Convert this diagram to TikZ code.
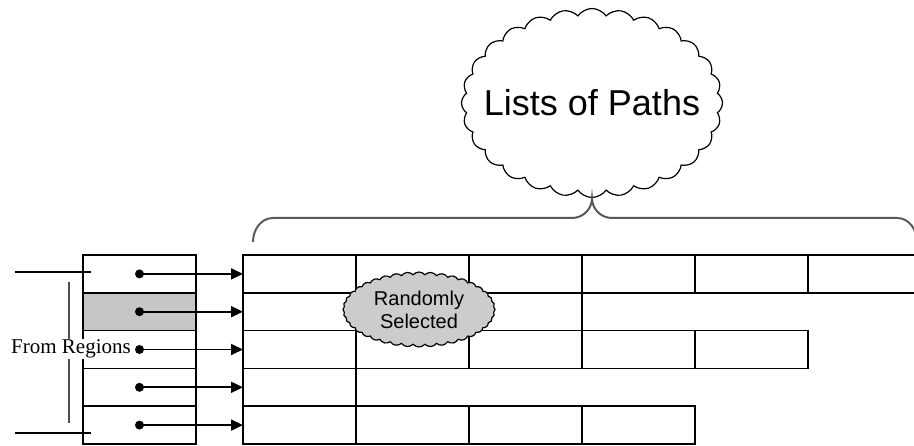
\documentclass[tikz,border=0pt]{standalone}
\usepackage{fontspec}
\setmainfont{Liberation Serif}
\setsansfont{Liberation Sans}
\usetikzlibrary{arrows.meta,shapes.symbols}
\tikzset{
	cell/.style={draw, line width=1.5pt, minimum width=113pt, minimum height=37.8pt, inner sep=0pt, outer sep=0pt},
	dot/.style={circle, fill, inner sep=0pt, minimum size=9pt},
	brace/.style={line width=2pt, gray!70!black},
	puff/.style={cloud, draw, line width=1.2pt, cloud ignores aspect, inner sep=0pt},
}
\begin{document}
\begin{tikzpicture}[x=1pt, y=-1pt, >={Triangle[length=12pt,width=11pt]}]
		\clip (0,0) rectangle (914,446);
		% regions and lists
		\foreach \r/\f in {1/white,2/gray!45,3/white,4/white,5/white}{
			\node[cell, fill=\f] (reg\r) at (139.5,{255+37.8*(\r-0.5)}) {};
		}
		\foreach \r/\n in {1/6,2/3,3/5,4/1,5/4}{
			\foreach \c in {1,...,\n}{
				\node[cell] (c\r-\c) at ({243+113*(\c-0.5)},{255+37.8*(\r-0.5)}) {};
			}
		}
		\foreach \r in {1,...,5}{
			\node[dot] (d\r) at (reg\r) {};
			\draw[->, line width=1.8pt] (d\r.center) -- (c\r-1.west);
		}
		% bracket on the left
		\coordinate (lt) at (15,272);
		\coordinate (lb) at (15,433);
		\draw[line width=1.5pt] (lt) -- ++(76,0);
		\draw[line width=1.5pt] (lb) -- ++(76,0);
		\draw[line width=2pt, gray!60!black] (69,282) -- (69,423);
		\node[fill=white, inner sep=1pt, font=\fontsize{21}{24}\selectfont] (from) at (71,349) {From Regions};
		% clouds
		\node[puff, fill=gray!40, cloud puffs=40, cloud puff arc=100,
			minimum width=152pt, minimum height=75pt] (rand) at (419,309.5) {};
		\node[align=center, font=\sffamily\fontsize{20}{23}\selectfont] (randtxt) at (rand.center) {Randomly\\Selected};
		\node[puff, cloud puffs=28, cloud puff arc=110,
			minimum width=261pt, minimum height=189pt] (lists) at (592,103) {};
		\node[font=\sffamily\fontsize{36}{40}\selectfont] (liststxt) at (lists.center) {Lists of Paths};
		\coordinate (bl) at (253,242);
		\coordinate (br) at (917,242);
		\draw[brace] (bl) to[out=90,in=180] (273,218) -- (572,218)
			to[out=0,in=-90] (lists.south) to[out=-90,in=180] (612,218) -- (897,218)
			to[out=0,in=90] (br);
\end{tikzpicture}
\end{document}
